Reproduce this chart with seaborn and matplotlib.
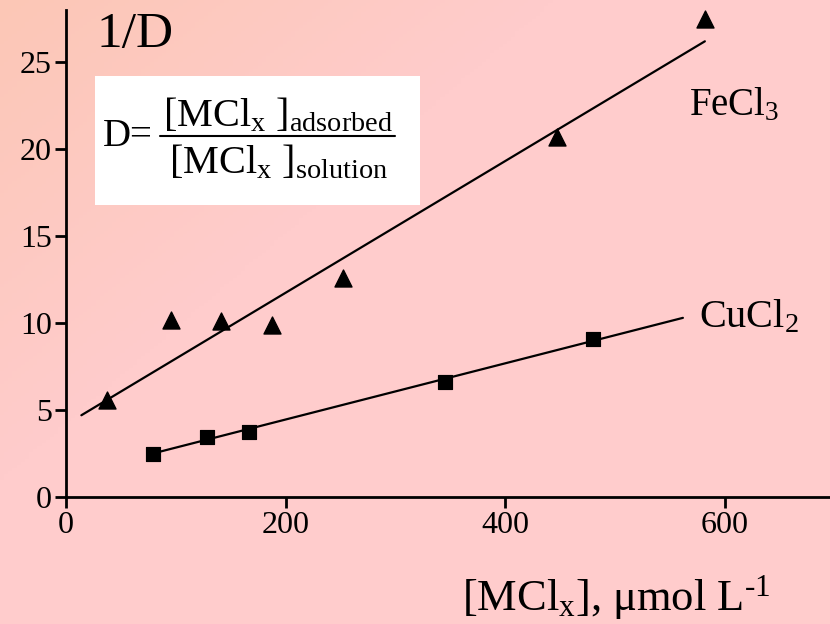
import numpy as np
import pandas as pd
import seaborn as sns
import matplotlib.pyplot as plt
from matplotlib.patches import Rectangle
from matplotlib.lines import Line2D

# dane
fe_x = [37, 96, 141, 188, 252, 447, 582]
fe_y = [5.6, 10.2, 10.1, 9.9, 12.6, 20.7, 27.5]
cu_x = [79, 128, 167, 345, 480]
cu_y = [2.5, 3.45, 3.75, 6.6, 9.1]

# proste dopasowania (końce linii)
fe_fit_x = [14, 582]
fe_fit_y = [4.7, 26.2]
cu_fit_x = [79, 562]
cu_fit_y = [2.5, 10.3]

x_ticks = [0, 200, 400, 600]
y_ticks = [0, 5, 10, 15, 20, 25]

fe = pd.DataFrame({"c": fe_x, "inv_d": fe_y})
cu = pd.DataFrame({"c": cu_x, "inv_d": cu_y})

sns.set_style("ticks")
plt.rcParams["font.family"] = ["Liberation Serif", "DejaVu Serif"]
plt.rcParams["mathtext.fontset"] = "custom"
plt.rcParams["mathtext.rm"] = "Liberation Serif"
plt.rcParams["mathtext.it"] = "Liberation Serif:italic"
plt.rcParams["text.color"] = "black"
plt.rcParams["xtick.color"] = "black"
plt.rcParams["ytick.color"] = "black"
plt.rcParams["axes.edgecolor"] = "black"

fig = plt.figure(figsize=(8.3, 6.24), dpi=100)

# tło z gradientem (brzoskwiniowy w lewym górnym rogu -> różowy)
bg = fig.add_axes([0, 0, 1, 1], zorder=-10)
gx, gy = np.meshgrid(np.linspace(0, 1, 200), np.linspace(0, 1, 200))
t = np.clip(1 - (gx * 1.5 + gy * 1.3), 0, 1)
c0 = np.array([255, 204, 204]) / 255
c1 = np.array([252, 199, 182]) / 255
img = c0[None, None, :] * (1 - t[..., None]) + c1[None, None, :] * t[..., None]
bg.imshow(img, aspect="auto", extent=[0, 1, 0, 1], origin="upper")
bg.axis("off")

ax = fig.add_axes([66 / 830, 127 / 624, 764 / 830, 487 / 624])
ax.patch.set_alpha(0)

sns.lineplot(x=fe_fit_x, y=fe_fit_y, color="black", lw=1.6, ax=ax)
sns.lineplot(x=cu_fit_x, y=cu_fit_y, color="black", lw=1.6, ax=ax)
sns.scatterplot(data=fe, x="c", y="inv_d", marker="^", s=150, color="black",
                edgecolor="black", ax=ax, zorder=3)
sns.scatterplot(data=cu, x="c", y="inv_d", marker="s", s=110, color="black",
                edgecolor="black", ax=ax, zorder=3)

ax.set_xlim(0, 696)
ax.set_ylim(0, 28)
ax.set_xticks(x_ticks)
ax.set_yticks(y_ticks)
ax.set_xlabel("")
ax.set_ylabel("")
sns.despine(ax=ax)
for s in ["left", "bottom"]:
    ax.spines[s].set_linewidth(2)
ax.tick_params(labelsize=23, width=2, length=8, direction="out", pad=2,
               colors="black")

ax.text(28, 26.6, "1/D", fontsize=37, va="center", ha="left")
ax.text(568, 22.5, "FeCl$_3$", fontsize=28, va="center", ha="left")
ax.text(577, 10.3, "CuCl$_2$", fontsize=29, va="center", ha="left")

# ramka ze wzorem
fig.patches.append(Rectangle((95 / 830, 1 - 205 / 624), 325 / 830, 129 / 624,
                             transform=fig.transFigure, facecolor="white",
                             edgecolor="none", zorder=5))
fig.text(103 / 830, 1 - 136 / 624, "D=", fontsize=28, ha="left", va="center",
         zorder=6)
fig.lines.append(Line2D([160 / 830, 395 / 830], [1 - 136 / 624, 1 - 136 / 624],
                        transform=fig.transFigure, color="black", lw=1.5,
                        zorder=6))
fig.text(278 / 830, 1 - 116 / 624,
         r"[MCl$_\mathrm{x}$ ]$_\mathrm{adsorbed}$",
         fontsize=29, ha="center", va="center", zorder=6)
fig.text(278 / 830, 1 - 163 / 624,
         r"[MCl$_\mathrm{x}$ ]$_\mathrm{solution}$",
         fontsize=29, ha="center", va="center", zorder=6)

fig.text(616 / 830, 1 - 598 / 624, r"[MCl$_\mathrm{x}$], μmol L$^{\text{-1}}$",
         fontsize=32, ha="center", va="center")

fig.savefig("out.png", dpi=100)
